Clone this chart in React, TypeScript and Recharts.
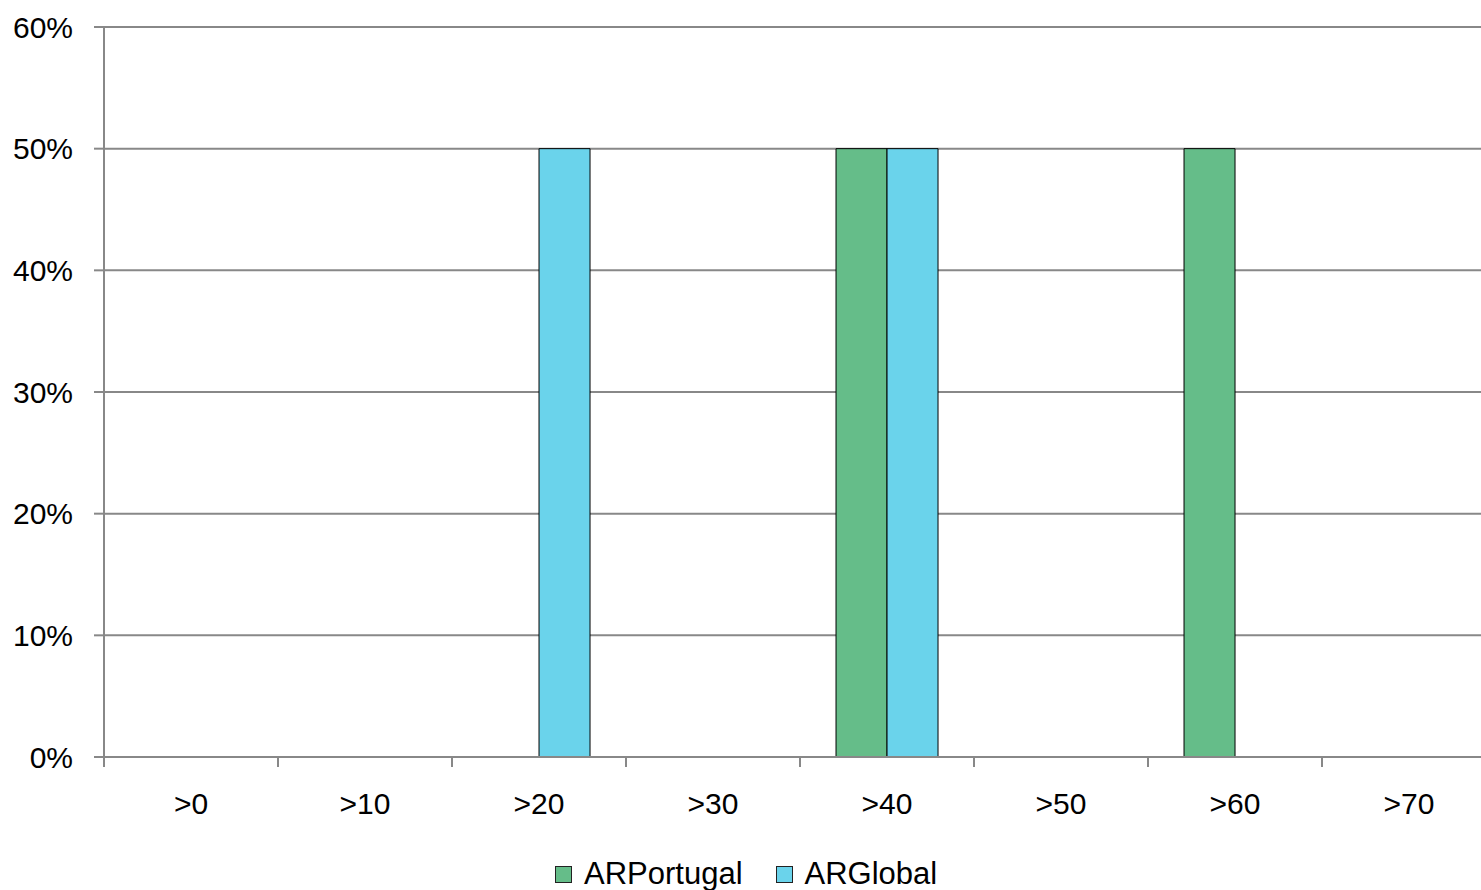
import React from 'react';
import { BarChart, Bar, XAxis, YAxis, CartesianGrid } from 'recharts';

const categories = ['>0', '>10', '>20', '>30', '>40', '>50', '>60', '>70'];
const arPortugal = [0, 0, 0, 0, 0.5, 0, 0.5, 0];
const arGlobal = [0, 0, 0.5, 0, 0.5, 0, 0, 0];
const yTicks = [0, 0.1, 0.2, 0.3, 0.4, 0.5, 0.6];

const data = categories.map((name, i) => ({
  name,
  ARPortugal: arPortugal[i],
  ARGlobal: arGlobal[i],
}));

const FONT = '"Liberation Sans", Arial, sans-serif';
const GRID = '#888888';
const GREEN = '#65BD89';
const BLUE = '#6AD3EB';

const CHART_W = 1520;
const CHART_H = 890;
const X_H = 60;
const MARGIN = { top: 27, right: 24, left: 0, bottom: 133 - X_H };
const Y_W = 104;
const BAND = (CHART_W - MARGIN.left - MARGIN.right - Y_W) / categories.length;

const CategoryTick = (props: any) => {
  const { x, y, payload } = props;
  const left = x - BAND / 2;
  return (
    <g>
      <line x1={left} x2={left} y1={y} y2={y + 10} stroke={GRID} strokeWidth={2} />
      <text x={x} y={y + 57} textAnchor="middle" fill="#000" fontSize={30} fontFamily={FONT}>
        {payload.value}
      </text>
    </g>
  );
};

const LegendItem = ({ color, label }: { color: string; label: string }) => (
  <div style={{ display: 'flex', alignItems: 'center', marginRight: 33 }}>
    <div style={{ width: 15, height: 15, background: color, border: '1px solid #222', marginRight: 12 }} />
    <span>{label}</span>
  </div>
);

export default function App() {
  return (
    <div style={{ position: 'absolute', left: 0, top: 0, width: 1481, height: 890, overflow: 'hidden', background: '#fff' }}>
      <BarChart
        width={CHART_W}
        height={CHART_H}
        data={data}
        margin={MARGIN}
        barCategoryGap="20.7%"
        barGap={0}
      >
        <CartesianGrid vertical={false} stroke={GRID} strokeWidth={2} />
        <XAxis
          dataKey="name"
          interval={0}
          axisLine={{ stroke: GRID, strokeWidth: 2 }}
          tickLine={false}
          tickSize={0}
          tickMargin={0}
          height={X_H}
          tick={<CategoryTick />}
        />
        <YAxis
          width={Y_W}
          domain={[0, 0.6]}
          ticks={yTicks}
          interval={0}
          tickFormatter={(v: number) => `${Math.round(v * 100)}%`}
          axisLine={{ stroke: GRID, strokeWidth: 2 }}
          tickLine={{ stroke: GRID, strokeWidth: 2 }}
          tickSize={10}
          tickMargin={21}
          tick={{ fill: '#000', fontSize: 30, fontFamily: FONT }}
        />
        <Bar dataKey="ARPortugal" fill={GREEN} stroke="#000" strokeWidth={1} isAnimationActive={false} />
        <Bar dataKey="ARGlobal" fill={BLUE} stroke="#000" strokeWidth={1} isAnimationActive={false} />
      </BarChart>
      <div
        style={{
          position: 'absolute',
          left: 555,
          top: 857,
          display: 'flex',
          fontFamily: FONT,
          fontSize: 31,
          color: '#000',
          lineHeight: '34px',
        }}
      >
        <LegendItem color={GREEN} label="ARPortugal" />
        <LegendItem color={BLUE} label="ARGlobal" />
      </div>
    </div>
  );
}
